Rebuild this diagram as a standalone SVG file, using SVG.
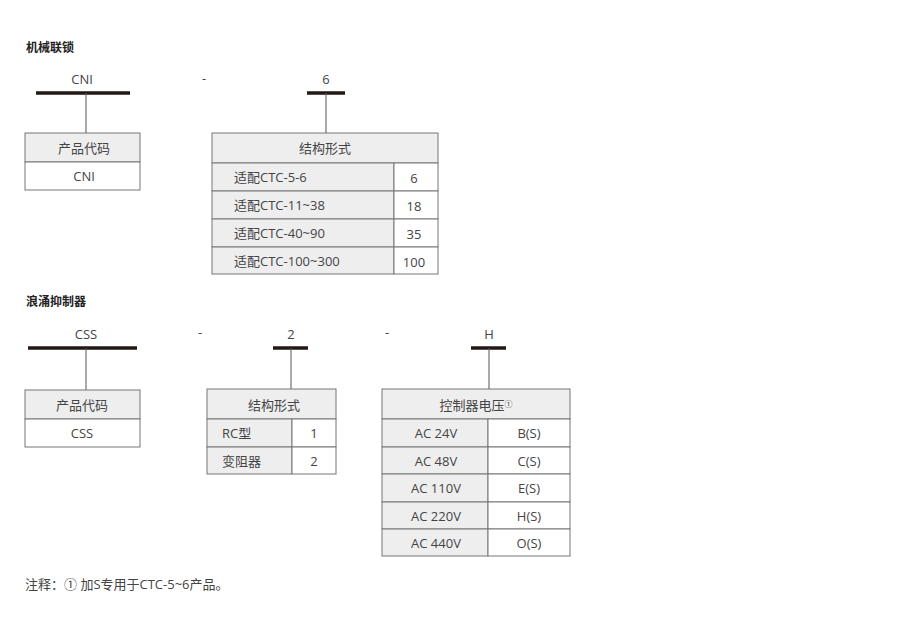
<svg xmlns="http://www.w3.org/2000/svg" width="900" height="632" viewBox="0 0 900 632">
<style>
text{font-family:"Open Sans","Noto Sans CJK SC",sans-serif;font-size:13px;fill:#444}
.t{font-weight:bold;fill:#222;font-size:12px}
.c{text-anchor:middle}
.g{fill:#eeeeef;stroke:#777;stroke-width:1}
.w{fill:#fff;stroke:#777;stroke-width:1}
.bar{stroke:#231815;stroke-width:3.5}
.ln{stroke:#555;stroke-width:1}
</style>
<rect width="900" height="632" fill="#fff"/>
<text class="t" x="26" y="52">机械联锁</text>
<text class="t" x="26" y="306">浪涌抑制器</text>
<g id="connectors">
<line class="bar" x1="36" y1="93" x2="130" y2="93"/><line class="ln" x1="86" y1="93" x2="86" y2="133"/>
<line class="bar" x1="307" y1="93" x2="345" y2="93"/><line class="ln" x1="326" y1="93" x2="326" y2="133"/>
<line class="bar" x1="28" y1="348" x2="137" y2="348"/><line class="ln" x1="86" y1="348" x2="86" y2="390"/>
<line class="bar" x1="273" y1="348" x2="308" y2="348"/><line class="ln" x1="291" y1="348" x2="291" y2="389"/>
<line class="bar" x1="471" y1="348" x2="506" y2="348"/><line class="ln" x1="489" y1="348" x2="489" y2="389"/>
</g>
<g id="labels">
<text class="c" x="82" y="84">CNI</text><text class="c" x="204" y="83">-</text><text class="c" x="326" y="84">6</text>
<text class="c" x="86" y="339">CSS</text><text class="c" x="200" y="337">-</text><text class="c" x="291" y="339">2</text><text class="c" x="387" y="337">-</text><text class="c" x="489" y="339">H</text>
</g>
<g id="cni-code">
<rect class="g" x="25" y="133" width="115" height="29"/><rect class="w" x="25" y="162" width="115" height="28"/>
<text class="c" x="84" y="153">产品代码</text><text class="c" x="84" y="181">CNI</text>
</g>
<g id="cni-struct">
<rect class="g" x="212" y="133" width="226" height="30"/>
<text class="c" x="325" y="153">结构形式</text>
<rect class="g" x="212" y="163" width="182" height="28"/><rect class="w" x="394" y="163" width="44" height="28"/>
<rect class="g" x="212" y="191" width="182" height="28"/><rect class="w" x="394" y="191" width="44" height="28"/>
<rect class="g" x="212" y="219" width="182" height="28"/><rect class="w" x="394" y="219" width="44" height="28"/>
<rect class="g" x="212" y="247" width="182" height="27"/><rect class="w" x="394" y="247" width="44" height="27"/>
<text x="234" y="182">适配CTC-5-6</text><text class="c" x="414" y="183">6</text>
<text x="234" y="210">适配CTC-11~38</text><text class="c" x="414" y="211">18</text>
<text x="234" y="238">适配CTC-40~90</text><text class="c" x="414" y="239">35</text>
<text x="234" y="266">适配CTC-100~300</text><text class="c" x="414" y="267">100</text>
</g>
<g id="css-code">
<rect class="g" x="25" y="390" width="115" height="29"/><rect class="w" x="25" y="419" width="115" height="28"/>
<text class="c" x="82" y="410">产品代码</text><text class="c" x="82" y="438">CSS</text>
</g>
<g id="css-struct">
<rect class="g" x="207" y="389" width="129" height="30"/>
<text class="c" x="274" y="410">结构形式</text>
<rect class="g" x="207" y="419" width="85" height="28"/><rect class="w" x="292" y="419" width="44" height="28"/>
<rect class="g" x="207" y="447" width="85" height="27"/><rect class="w" x="292" y="447" width="44" height="27"/>
<text x="222" y="438">RC型</text><text class="c" x="314" y="438">1</text>
<text x="222" y="466">变阻器</text><text class="c" x="314" y="466">2</text>
</g>
<g id="css-voltage">
<rect class="g" x="382" y="389" width="188" height="30"/>
<text class="c" x="476" y="410">控制器电压<tspan font-size="8" dy="-3">①</tspan></text>
<rect class="g" x="382" y="419" width="106" height="28"/><rect class="w" x="488" y="419" width="82" height="28"/>
<rect class="g" x="382" y="447" width="106" height="27"/><rect class="w" x="488" y="447" width="82" height="27"/>
<rect class="g" x="382" y="474" width="106" height="28"/><rect class="w" x="488" y="474" width="82" height="28"/>
<rect class="g" x="382" y="502" width="106" height="27"/><rect class="w" x="488" y="502" width="82" height="27"/>
<rect class="g" x="382" y="529" width="106" height="27"/><rect class="w" x="488" y="529" width="82" height="27"/>
<text class="c" x="436" y="438">AC 24V</text><text class="c" x="529" y="438">B(S)</text>
<text class="c" x="436" y="466">AC 48V</text><text class="c" x="529" y="466">C(S)</text>
<text class="c" x="436" y="493">AC 110V</text><text class="c" x="529" y="493">E(S)</text>
<text class="c" x="436" y="521">AC 220V</text><text class="c" x="529" y="521">H(S)</text>
<text class="c" x="436" y="548">AC 440V</text><text class="c" x="529" y="548">O(S)</text>
</g>
<text x="25" y="589">注释：① 加S专用于CTC-5~6产品。</text>
</svg>
